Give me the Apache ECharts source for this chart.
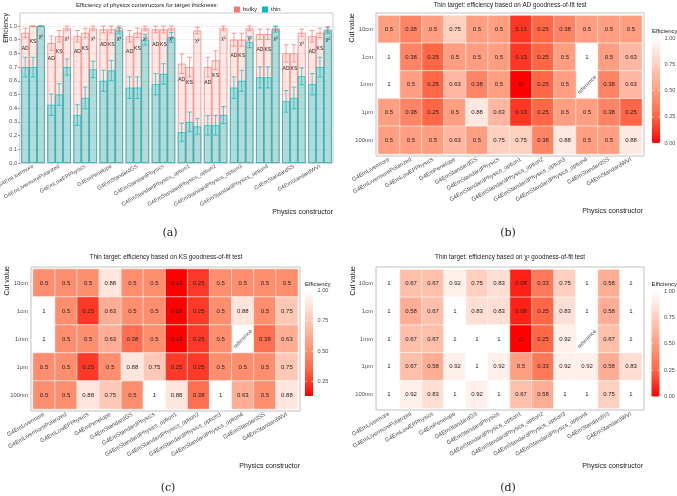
<!DOCTYPE html>
<html>
<head>
<meta charset="utf-8">
<script src="https://cdn.jsdelivr.net/npm/echarts@6/dist/echarts.min.js"></script>
<style>
  html, body { margin: 0; padding: 0; background: #fff; }
  #main { width: 677px; height: 496px; }
</style>
</head>
<body>
<div id="main"></div>
<script>
var constructors = ['G4EmLivermore', 'G4EmLivermorePolarized', 'G4EmLowEPPhysics', 'G4EmPenelope',
  'G4EmStandardGS', 'G4EmStandardPhysics', 'G4EmStandardPhysics_option1', 'G4EmStandardPhysics_option2',
  'G4EmStandardPhysics_option3', 'G4EmStandardPhysics_option4', 'G4EmStandardSS', 'G4EmStandardWVI'];

// panel (a): efficiency per constructor, bulky vs thin target
var bulkyAD  = [0.95, 0.875, 0.925, 0.975, 0.925, 0.975, 0.725, 0.7, 0.9, 0.94, 0.8, 0.925];
var bulkyKS  = [1.0, 0.925, 0.95, 0.975, 0.95, 0.975, 0.7, 0.75, 0.9, 0.94, 0.8, 0.95];
var bulkyChi = [1.0, 0.983, 0.983, 0.983, 0.983, 0.983, 0.967, 0.983, 0.983, 0.983, 0.95, 0.975];
var thinAD   = [0.7, 0.425, 0.35, 0.6, 0.55, 0.575, 0.225, 0.275, 0.55, 0.625, 0.45, 0.575];
var thinKS   = [0.7, 0.5, 0.475, 0.675, 0.55, 0.65, 0.3, 0.275, 0.6, 0.625, 0.475, 0.7];
var thinChi  = [1.0, 0.7, 0.683, 0.967, 0.9, 0.917, 0.267, 0.35, 0.883, 0.975, 0.633, 0.967];
// error bar half-lengths
var bulkyADErr  = [0.034, 0.052, 0.042, 0.025, 0.042, 0.025, 0.071, 0.072, 0.047, 0.038, 0.063, 0.042];
var bulkyKSErr  = [0, 0.042, 0.034, 0.025, 0.034, 0.025, 0.072, 0.068, 0.047, 0.038, 0.063, 0.034];
var bulkyChiErr = [0, 0.017, 0.017, 0.017, 0.017, 0.017, 0.023, 0.017, 0.017, 0.017, 0.028, 0.02];
var thinADErr   = [0.072, 0.078, 0.075, 0.077, 0.079, 0.078, 0.066, 0.071, 0.079, 0.077, 0.079, 0.078];
var thinKSErr   = [0.072, 0.079, 0.079, 0.074, 0.079, 0.075, 0.072, 0.071, 0.077, 0.077, 0.079, 0.072];
var thinChiErr  = [0, 0.059, 0.06, 0.023, 0.039, 0.036, 0.057, 0.062, 0.041, 0.02, 0.062, 0.023];
var effTicks = [0, 0.1, 0.2, 0.3, 0.4, 0.5, 0.6, 0.7, 0.8, 0.9, 1.0];

// panels (b)-(d): thin target heatmaps, rows top to bottom
var cuts = ['10cm', '1cm', '1mm', '1μm', '100nm'];
var adRows = [
  [0.5, 0.38, 0.5, 0.75, 0.5, 0.5, 0.13, 0.25, 0.38, 0.5, 0.5, 0.5],
  [1, 0.38, 0.25, 0.5, 0.5, 0.5, 0.13, 0.25, 0.5, 1, 0.5, 0.63],
  [1, 0.5, 0.25, 0.63, 0.38, 0.5, 0, 0.25, 0.5, null, 0.38, 0.63],
  [0.5, 0.38, 0.25, 0.5, 0.88, 0.63, 0.13, 0.25, 0.5, 0.5, 0.38, 0.25],
  [0.5, 0.5, 0.5, 0.63, 0.5, 0.75, 0.75, 0.38, 0.88, 0.5, 0.5, 0.88]
];
var ksRows = [
  [0.5, 0.5, 0.5, 0.88, 0.5, 0.5, 0.13, 0.25, 0.5, 0.5, 0.5, 0.5],
  [1, 0.5, 0.25, 0.63, 0.5, 0.5, 0.13, 0.25, 0.5, 0.88, 0.5, 0.75],
  [1, 0.5, 0.5, 0.63, 0.38, 0.5, 0.13, 0.25, 0.5, null, 0.38, 0.63],
  [0.5, 0.5, 0.25, 0.5, 0.88, 0.75, 0.25, 0.25, 0.5, 0.5, 0.5, 0.75],
  [0.5, 0.5, 0.88, 0.75, 0.5, 1, 0.88, 0.38, 1, 0.63, 0.5, 0.88]
];
var chiRows = [
  [1, 0.67, 0.67, 0.92, 0.75, 0.83, 0.08, 0.33, 0.75, 1, 0.58, 1],
  [1, 0.58, 0.67, 1, 0.83, 0.83, 0.08, 0.25, 0.83, 1, 0.58, 1],
  [1, 0.67, 0.67, 1, 1, 1, 0, 0.25, 0.92, null, 0.67, 1],
  [1, 0.67, 0.58, 0.92, 1, 0.92, 0.5, 0.33, 0.92, 0.92, 0.58, 0.83],
  [1, 0.92, 0.83, 1, 0.92, 1, 0.67, 0.58, 1, 1, 0.75, 1]
];
var legendTicks = [1.0, 0.75, 0.5, 0.25, 0.0];

var font = 'Liberation Sans, Arial, sans-serif';
var grey30 = '#4d4d4d';
var redWhite = ['#ff0000', '#ff6746', '#ff9e81', '#ffcfbf', '#ffffff'];

var chart = echarts.init(document.getElementById('main'), null, { renderer: 'canvas' });

function heatData(rows) {
  var out = [];
  rows.forEach(function(row, r) {
    row.forEach(function(v, c) { if (v !== null) out.push([c, r, v]); });
  });
  return out;
}
function dataMin(rows) {
  var m = 1;
  rows.forEach(function(row) { row.forEach(function(v) { if (v !== null && v < m) m = v; }); });
  return m;
}

var grids = [
  { left: 20, top: 13, width: 313, height: 150, show: true, borderColor: '#b3b3b3', borderWidth: 0.7, outerBoundsMode: 'none' }
];
var xAxes = [
  {
    type: 'category', gridIndex: 0, data: constructors,
    axisLine: { show: false },
    axisTick: { alignWithLabel: true, length: 2, lineStyle: { color: '#555', width: 0.6 } },
    axisLabel: { interval: 0, rotate: 30, fontSize: 5.5, color: grey30, margin: 3, fontFamily: font },
    splitLine: { show: false }
  },
  { type: 'category', gridIndex: 0, data: constructors, show: false }
];
var yAxes = [
  {
    type: 'value', gridIndex: 0, min: 0, max: 1.095, interval: 0.1,
    axisLine: { show: false },
    axisTick: { show: true, length: 2, lineStyle: { color: '#555', width: 0.6 } },
    axisLabel: { fontSize: 5.5, color: grey30, margin: 3, showMaxLabel: false, fontFamily: font,
      formatter: function(v) { return effTicks.indexOf(Math.round(v * 10) / 10) >= 0 ? v.toFixed(1) : ''; } },
    splitLine: { lineStyle: { color: '#e4e4e4', width: 0.6 } },
    minorTick: { show: false, splitNumber: 2 },
    minorSplitLine: { show: true, lineStyle: { color: '#f0f0f0', width: 0.4 } }
  }
];

var series = [];
var tests = [
  { label: 'AD', bulky: bulkyAD, bulkyErr: bulkyADErr, thin: thinAD, thinErr: thinADErr, dist: 13 },
  { label: 'KS', bulky: bulkyKS, bulkyErr: bulkyKSErr, thin: thinKS, thinErr: thinKSErr, dist: 13 },
  { label: 'χ²', bulky: bulkyChi, bulkyErr: bulkyChiErr, thin: thinChi, thinErr: thinChiErr, dist: 8 }
];

tests.forEach(function(t) {
  series.push({
    type: 'bar', name: 'bulky', xAxisIndex: 0, yAxisIndex: 0, data: t.bulky,
    barGap: '0%', barCategoryGap: '10%',
    itemStyle: { color: 'rgba(248,118,109,0.17)', borderColor: '#f8766d', borderWidth: 0.7 },
    label: { show: true, position: 'insideTop', distance: t.dist, formatter: t.label,
      fontSize: 5, color: '#222', fontFamily: font }
  });
});
tests.forEach(function(t) {
  series.push({
    type: 'bar', name: 'thin', xAxisIndex: 1, yAxisIndex: 0, data: t.thin,
    barGap: '0%', barCategoryGap: '10%',
    itemStyle: { color: 'rgba(0,191,196,0.3)', borderColor: '#00bfc4', borderWidth: 0.7 }
  });
});

function errorBars(values, errs, k, axisIdx, color) {
  return {
    type: 'custom', xAxisIndex: axisIdx, yAxisIndex: 0, z: 4, silent: true,
    data: values.map(function(v, i) { return [i, v, errs[i]]; }),
    renderItem: function(params, api) {
      var i = api.value(0), v = api.value(1), e = api.value(2);
      var cw = api.size([1, 0])[0];
      var x = api.coord([i, v])[0] + (k - 1) * cw * 0.3;
      var yHi = api.coord([i, v + e])[1];
      var yLo = api.coord([i, v - e])[1];
      var hw = cw * 0.09;
      var st = { stroke: color, lineWidth: 0.7 };
      return {
        type: 'group',
        children: [
          { type: 'line', shape: { x1: x, y1: yHi, x2: x, y2: yLo }, style: st },
          { type: 'line', shape: { x1: x - hw, y1: yHi, x2: x + hw, y2: yHi }, style: st },
          { type: 'line', shape: { x1: x - hw, y1: yLo, x2: x + hw, y2: yLo }, style: st }
        ]
      };
    }
  };
}
tests.forEach(function(t, k) { series.push(errorBars(t.bulky, t.bulkyErr, k, 0, '#f8766d')); });
tests.forEach(function(t, k) { series.push(errorBars(t.thin, t.thinErr, k, 1, '#00bfc4')); });

// heatmap panels
var heatPanels = [
  { rows: adRows, grid: { left: 378, top: 15.5, width: 264, height: 138.5 }, border: [376, 13, 268, 143] },
  { rows: ksRows, grid: { left: 33, top: 269, width: 265, height: 140 }, border: [31, 267, 269, 144] },
  { rows: chiRows, grid: { left: 378, top: 269.5, width: 264, height: 139 }, border: [376, 267, 268, 143] }
];
var visualMaps = [];

heatPanels.forEach(function(p, n) {
  var gi = n + 1;
  var g = p.grid;
  g.outerBoundsMode = 'none';
  grids.push(g);
  var xi = xAxes.length, yi = yAxes.length;
  xAxes.push({
    type: 'category', gridIndex: gi, data: constructors, offset: 2,
    axisLine: { show: false },
    axisTick: { alignWithLabel: true, length: 2, lineStyle: { color: '#444', width: 0.6 } },
    axisLabel: { interval: 0, rotate: 30, fontSize: 5.8, color: grey30, margin: 3, fontFamily: font },
    splitLine: { show: false }
  });
  yAxes.push({
    type: 'category', gridIndex: gi, data: cuts, inverse: true, offset: 2,
    axisLine: { show: false },
    axisTick: { alignWithLabel: true, length: 2, lineStyle: { color: '#444', width: 0.6 } },
    axisLabel: { fontSize: 5.8, color: grey30, margin: 3, fontFamily: font },
    splitLine: { show: false }
  });
  var idx = series.length;
  series.push({
    type: 'heatmap', xAxisIndex: xi, yAxisIndex: yi, data: heatData(p.rows),
    itemStyle: { borderColor: '#ffffff', borderWidth: 0.6 },
    label: { show: true, fontSize: 6, color: '#222', fontFamily: font,
      formatter: function(q) { return String(q.value[2]); } }
  });
  series.push({
    type: 'scatter', xAxisIndex: xi, yAxisIndex: yi, symbolSize: 0, silent: true,
    data: [['G4EmStandardPhysics_option4', '1mm']],
    label: { show: true, position: 'inside', formatter: 'reference', rotate: 45,
      fontSize: 5.8, color: '#333', fontFamily: font }
  });
  p.min = dataMin(p.rows);
  visualMaps.push({
    type: 'continuous', show: false, seriesIndex: idx, min: p.min, max: 1,
    inRange: { color: redWhite }
  });
});

// text, captions, colour legends
function txt(text, x, y, size, align, extra) {
  var o = {
    type: 'text', x: x, y: y, silent: true,
    style: { text: text, fontSize: size, fontFamily: font, fill: '#1a1a1a',
      align: align || 'left', verticalAlign: 'middle' }
  };
  if (extra) for (var k in extra) o[k] = extra[k];
  return o;
}
var graphics = [
  txt('Efficiency of physics constructors for target thickness:', 76, 5, 6),
  txt('Efficiency', 6, 13, 7, 'right', { rotation: Math.PI / 2 }),
  txt('Physics constructor', 333, 212, 7, 'right'),
  txt('Thin target: efficiency based on AD goodness-of-fit test', 510, 5, 6.3, 'center'),
  txt('Thin target: efficiency based on KS goodness-of-fit test', 166, 257, 6.3, 'center'),
  txt('Thin target: efficiency based on χ² goodness-of-fit test', 510, 257.5, 6.3, 'center'),
  txt('Cut value', 352, 13, 7, 'right', { rotation: Math.PI / 2 }),
  txt('Cut value', 7, 266, 7, 'right', { rotation: Math.PI / 2 }),
  txt('Cut value', 353, 266, 7, 'right', { rotation: Math.PI / 2 }),
  txt('Physics constructor', 643, 211, 7, 'right'),
  txt('Physics constructor', 300, 466, 7, 'right'),
  txt('Physics constructor', 643, 466, 7, 'right')
];
[['(a)', 170, 233], ['(b)', 508, 233], ['(c)', 168, 488], ['(d)', 508, 488]].forEach(function(c) {
  var t = txt(c[0], c[1], c[2], 11, 'center');
  t.style.fontFamily = 'DejaVu Serif, Liberation Serif, serif';
  graphics.push(t);
});

var bars = [
  { x: 652, y: 38, h: 105, title: [652, 31] },
  { x: 305, y: 290.5, h: 105.5, title: [305, 284] },
  { x: 651.5, y: 291, h: 105.5, title: [651.5, 284] }
];
heatPanels.forEach(function(p, n) {
  var b = p.border;
  graphics.push({
    type: 'rect', silent: true, z: 10,
    shape: { x: b[0], y: b[1], width: b[2], height: b[3] },
    style: { fill: 'none', stroke: '#b3b3b3', lineWidth: 0.8 }
  });
  var L = bars[n];
  graphics.push(txt('Efficiency', L.title[0], L.title[1], 6, 'left'));
  graphics.push({
    type: 'rect', silent: true,
    shape: { x: L.x, y: L.y, width: 8, height: L.h },
    style: { fill: new echarts.graphic.LinearGradient(0, 0, 0, 1, [
      { offset: 0, color: redWhite[4] }, { offset: 0.25, color: redWhite[3] },
      { offset: 0.5, color: redWhite[2] }, { offset: 0.75, color: redWhite[1] },
      { offset: 1, color: redWhite[0] }]) }
  });
  legendTicks.forEach(function(v) {
    if (v < p.min) return;
    var y = L.y + (1 - v) / (1 - p.min) * L.h;
    var t = txt(v.toFixed(2), L.x + 12.5, y, 5.6, 'left');
    t.style.fill = grey30;
    graphics.push(t);
    graphics.push({ type: 'line', silent: true, shape: { x1: L.x, y1: y, x2: L.x + 1.6, y2: y },
      style: { stroke: '#fff', lineWidth: 0.6 } });
    graphics.push({ type: 'line', silent: true, shape: { x1: L.x + 6.4, y1: y, x2: L.x + 8, y2: y },
      style: { stroke: '#fff', lineWidth: 0.6 } });
  });
});

chart.setOption({
  animation: false,
  backgroundColor: '#ffffff',
  textStyle: { fontFamily: font },
  legend: {
    left: 229, top: 1.5, itemWidth: 6, itemHeight: 6, itemGap: 5, icon: 'rect',
    textStyle: { fontSize: 6, color: '#1a1a1a', padding: [0, 0, 0, -2] },
    data: [
      { name: 'bulky', itemStyle: { color: '#f8766d', borderWidth: 0 } },
      { name: 'thin', itemStyle: { color: '#00bfc4', borderWidth: 0 } }
    ],
    selectedMode: false
  },
  grid: grids,
  xAxis: xAxes,
  yAxis: yAxes,
  visualMap: visualMaps,
  series: series,
  graphic: graphics
});
</script>
</body>
</html>
